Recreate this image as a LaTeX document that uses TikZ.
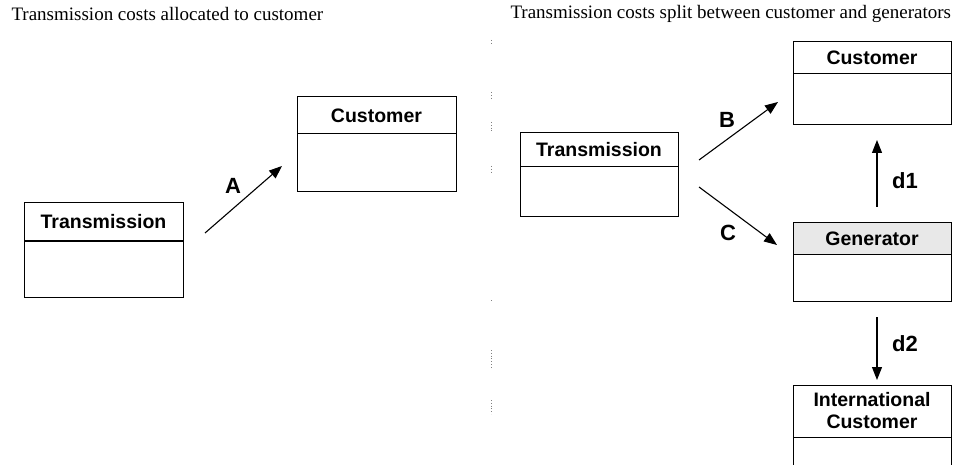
\documentclass[tikz,border=0pt]{standalone}
\usepackage{fontspec}
\setmainfont{Liberation Serif}
\newfontfamily\boxfont{Liberation Sans}[BoldFont={Liberation Sans Bold}]
\usetikzlibrary{arrows.meta}
\begin{document}
\begin{tikzpicture}[x=1pt,y=-1pt,
  part/.style={draw, line width=1pt, anchor=north west, inner sep=0pt, outer sep=0pt, minimum width=158pt},
  hdr/.style={part, font=\boxfont\bfseries\fontsize{19.5}{22}\selectfont},
  conn/.style={line width=1.1pt, -{Triangle[length=13pt,width=10pt]}},
  lbl/.style={font=\boxfont\bfseries\fontsize{22}{24}\selectfont},
  title/.style={anchor=west, font=\fontsize{19}{21}\selectfont}]
\useasboundingbox (0,0) rectangle (953,465);
\clip (0,0) rectangle (953,465);
% titles
\node[title] (t1) at (8,14) {Transmission costs allocated to customer};
\node[title] (t2) at (507,14) {Transmission costs split between customer and generators};
% separator
\foreach \a/\b in {40/45,92/98,122/132,166/172,300/302,350/368,400/414}
  \draw[gray, line width=0.8pt, dotted] (491,\a) -- (491,\b);
% left
\node[hdr, minimum width=159pt, minimum height=38pt] (ltH) at (24,203) {Transmission};
\node[part, minimum width=159pt, minimum height=56pt] (ltB) at (24,241) {};
\node[hdr, minimum width=159pt, minimum height=37pt] (lcH) at (297,97) {Customer};
\node[part, minimum width=159pt, minimum height=58pt] (lcB) at (297,134) {};
\coordinate (a1) at (205,233);
\coordinate (a2) at (282,166);
\draw[conn] (a1) -- (a2);
\node[lbl] (lA) at (233,186) {A};
% right
\node[hdr, minimum height=34pt] (rtH) at (520,133) {Transmission};
\node[part, minimum height=50pt] (rtB) at (520,167) {};
\node[hdr, minimum height=32pt] (rcH) at (793,42) {Customer};
\node[part, minimum height=51pt] (rcB) at (793,74) {};
\node[hdr, minimum height=31pt, fill=gray!18] (gH) at (793,223) {Generator};
\node[part, minimum height=47pt] (gB) at (793,254) {};
\node[hdr, minimum height=52pt, align=center] (iH) at (793,385) {International\\Customer};
\node[part, minimum height=40pt] (iB) at (793,437) {};
\coordinate (b1) at (699,160);
\coordinate (b2) at (778,102);
\coordinate (c1) at (699,187);
\coordinate (c2) at (777,245);
\coordinate (d1a) at (877,207);
\coordinate (d1b) at (877,140);
\coordinate (d2a) at (877,317);
\coordinate (d2b) at (877,380);
\draw[conn] (b1) -- (b2);
\draw[conn] (c1) -- (c2);
\draw[conn] (d1a) -- (d1b);
\draw[conn] (d2a) -- (d2b);
\node[lbl] (lB) at (727,120) {B};
\node[lbl] (lC) at (728,233) {C};
\node[lbl] (ld1) at (905,181) {d1};
\node[lbl] (ld2) at (905,344) {d2};
\end{tikzpicture}
\end{document}
